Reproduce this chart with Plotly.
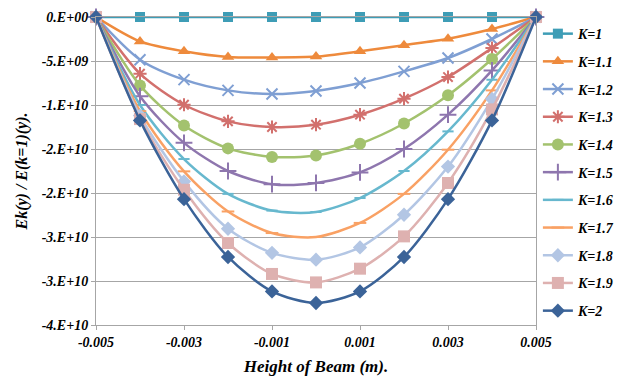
import plotly.graph_objects as go

x_vals = [-0.005, -0.004, -0.003, -0.002, -0.001, 0.0, 0.001, 0.002, 0.003, 0.004, 0.005]

k_labels = ["K=1", "K=1.1", "K=1.2", "K=1.3", "K=1.4", "K=1.5", "K=1.6", "K=1.7", "K=1.8", "K=1.9", "K=2"]

k1_0 = [0, 0, 0, 0, 0, 0, 0, 0, 0, 0, 0]
k1_1 = [0, -2.77e9, -3.9e9, -4.55e9, -4.6e9, -4.5e9, -3.9e9, -3.2e9, -2.47e9, -1.36e9, 0]
k1_2 = [0, -4.85e9, -7.12e9, -8.34e9, -8.75e9, -8.4e9, -7.5e9, -6.18e9, -4.66e9, -2.5e9, 0]
k1_3 = [0, -6.44e9, -9.97e9, -1.186e10, -1.25e10, -1.224e10, -1.11e10, -9.28e9, -6.82e9, -3.52e9, 0]
k1_4 = [0, -7.77e9, -1.233e10, -1.493e10, -1.59e10, -1.573e10, -1.44e10, -1.21e10, -8.9e9, -4.77e9, 0]
k1_5 = [0, -9.0e9, -1.43e10, -1.75e10, -1.9e10, -1.886e10, -1.766e10, -1.5e10, -1.11e10, -6.07e9, 0]
k1_6 = [0, -1.0e10, -1.614e10, -2.01e10, -2.2e10, -2.216e10, -2.057e10, -1.75e10, -1.3e10, -7.13e9, 0]
k1_7 = [0, -1.07e10, -1.754e10, -2.21e10, -2.455e10, -2.5e10, -2.34e10, -2.01e10, -1.508e10, -8.34e9, 0]
k1_8 = [0, -1.12e10, -1.868e10, -2.406e10, -2.68e10, -2.758e10, -2.618e10, -2.247e10, -1.7e10, -9.32e9, 0]
k1_9 = [0, -1.16e10, -1.963e10, -2.568e10, -2.92e10, -3.016e10, -2.86e10, -2.493e10, -1.886e10, -1.05e10, 0]
k2_0 = [0, -1.175e10, -2.07e10, -2.727e10, -3.118e10, -3.25e10, -3.118e10, -2.727e10, -2.07e10, -1.175e10, 0]

series = [k1_0, k1_1, k1_2, k1_3, k1_4, k1_5, k1_6, k1_7, k1_8, k1_9, k2_0]

y_tickvals = [0, -5e9, -1e10, -1.5e10, -2e10, -2.5e10, -3e10, -3.5e10]
y_ticktext = ["0.E+00", "-5.E+09", "-1.E+10", "-2.E+10", "-2.E+10", "-3.E+10", "-3.E+10", "-4.E+10"]
x_tickvals = [-0.005, -0.003, -0.001, 0.001, 0.003, 0.005]
x_ticktext = ["-0.005", "-0.003", "-0.001", "0.001", "0.003", "0.005"]

colors = ["#3E9DB6", "#EE8A3C", "#7F9FD3", "#D2706D", "#A3C26E", "#8E76AE",
          "#67B8CE", "#F9A164", "#B3C6E4", "#DEB1B0", "#3B6398"]
symbols = ["square", "triangle-up", "x-thin", "asterisk", "circle", "cross-thin",
           "line-ew", "line-ew", "diamond", "square", "diamond"]
sizes = [10, 11, 11, 11, 12, 12, 8, 9, 11, 12, 11]

FONT = "Liberation Serif"

fig = go.Figure()
for i, (lab, ys) in enumerate(zip(k_labels, series)):
    sym = symbols[i]
    open_sym = sym in ("x-thin", "asterisk", "cross-thin", "line-ew")
    marker = dict(symbol=sym, size=sizes[i], color=colors[i],
                  line=dict(color=colors[i], width=2 if open_sym else 0))
    fig.add_trace(go.Scatter(
        x=x_vals, y=ys, name=lab, mode="lines+markers",
        line=dict(color=colors[i], width=2.5, shape="spline", smoothing=0.8),
        marker=marker, cliponaxis=False, legendgroup=lab,
    ))

fig.update_layout(
    width=624, height=376,
    margin=dict(l=96, r=88, t=17, b=51, autoexpand=False),
    paper_bgcolor="white", plot_bgcolor="white",
    font=dict(family=FONT, size=14, color="black", weight="bold", style="italic"),
    showlegend=True,
    legend=dict(xref="container", yref="container", x=0.862, xanchor="left",
                y=0.952, yanchor="top", maxheight=1,
                font=dict(family=FONT, size=14, weight="bold", style="italic"),
                traceorder="grouped", tracegroupgap=6.5, itemwidth=30,
                bgcolor="rgba(0,0,0,0)"),
    xaxis=dict(range=[-0.005, 0.005], tickvals=x_tickvals, ticktext=x_ticktext,
               showgrid=False, zeroline=False, showline=True, linecolor="#A6A6A6",
               linewidth=1, mirror=True, ticks="outside", ticklen=4, tickcolor="#A6A6A6",
               tickfont=dict(family=FONT, size=14, weight="bold", style="italic"),
               title=dict(text="Height of Beam (m).", standoff=11,
                          font=dict(family=FONT, size=17, weight="bold", style="italic"))),
    yaxis=dict(range=[-3.5e10, 0], tickvals=y_tickvals, ticktext=y_ticktext,
               showgrid=True, gridcolor="#A6A6A6", gridwidth=1, zeroline=False,
               showline=True, linecolor="#A6A6A6", linewidth=1, mirror=True,
               ticks="outside", ticklen=4, tickcolor="#A6A6A6",
               tickfont=dict(family=FONT, size=14, weight="bold", style="italic"),
               title=dict(text="Ek(y) / E(k=1)(y).", standoff=10,
                          font=dict(family=FONT, size=16, weight="bold", style="italic"))),
)

fig.write_html("out.html")
